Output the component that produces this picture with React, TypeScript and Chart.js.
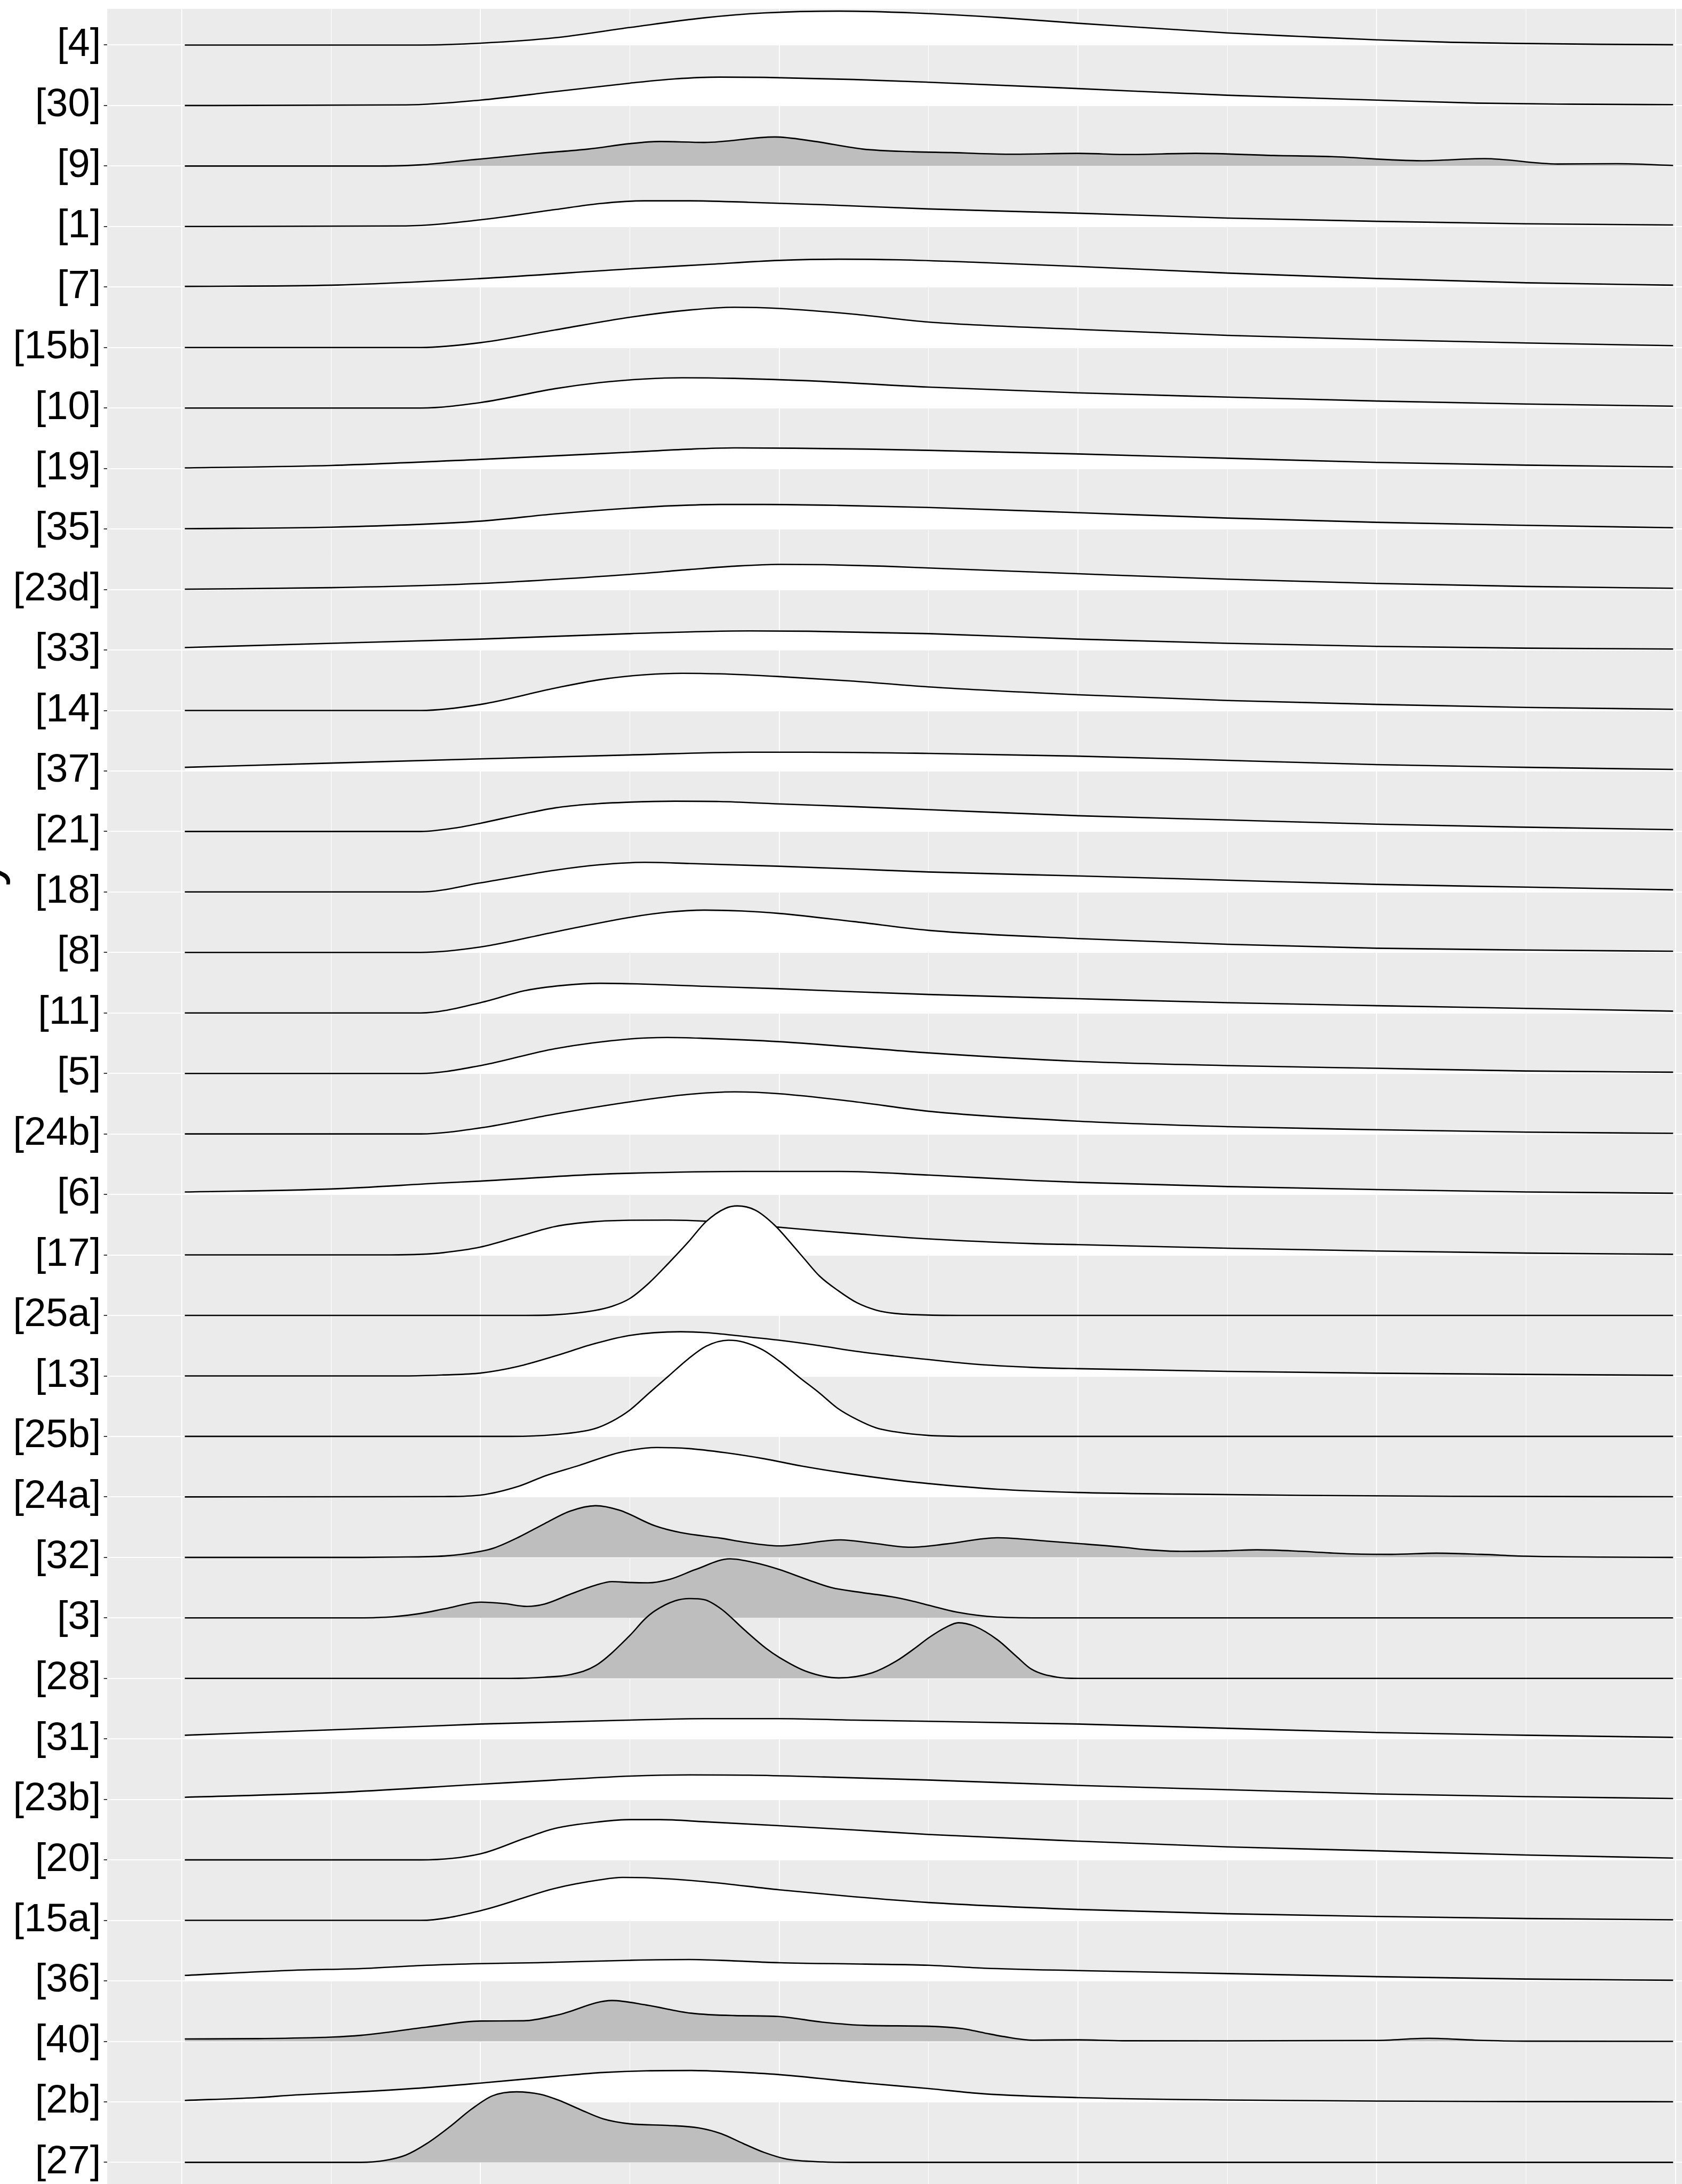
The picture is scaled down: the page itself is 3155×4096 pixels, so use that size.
import React, { useEffect, useRef } from 'react';
import { Chart, registerables } from 'chart.js';

Chart.register(...registerables);

// ---- categories (top to bottom) ----
const ROW_LABELS = ['[4]', '[30]', '[9]', '[1]', '[7]', '[15b]', '[10]', '[19]', '[35]', '[23d]', '[33]', '[14]', '[37]', '[21]', '[18]', '[8]', '[11]', '[5]', '[24b]', '[6]', '[17]', '[25a]', '[13]', '[25b]', '[24a]', '[32]', '[3]', '[28]', '[31]', '[23b]', '[20]', '[15a]', '[36]', '[40]', '[2b]', '[27]'];
const SHADED_ROWS = ['[9]', '[32]', '[3]', '[28]', '[40]', '[27]'];
const X_GRID_TICKS = [0, 1, 2, 3, 4, 5, 6, 7, 8, 9, 10];
const Y_TITLE = 'Study';

// ---- ridge densities: [x, height] pairs ----
const R4 = [[0.02, 0], [1.6, 0], [2.0, 0.03], [2.5, 0.12], [3.0, 0.29], [3.5, 0.45], [3.9, 0.53], [4.4, 0.56], [4.9, 0.53], [5.5, 0.45], [6.0, 0.36], [6.5, 0.28], [7.0, 0.2], [7.5, 0.14], [8.0, 0.085], [8.5, 0.045], [9.0, 0.025], [9.5, 0.012], [9.985, 0.005]];
const R30 = [[0.02, 0], [1.5, 0.01], [2.0, 0.09], [2.5, 0.23], [3.0, 0.37], [3.3, 0.44], [3.6, 0.47], [3.9, 0.465], [4.5, 0.43], [5.0, 0.385], [6.0, 0.28], [7.0, 0.17], [8.0, 0.09], [8.67, 0.04], [9.3, 0.022], [9.985, 0.014]];
const R9 = [[0.02, 0], [1.28, 0], [1.6, 0.02], [1.93, 0.1], [2.0, 0.115], [2.39, 0.21], [2.72, 0.28], [3.0, 0.37], [3.2, 0.405], [3.5, 0.39], [3.97, 0.48], [4.23, 0.41], [4.56, 0.28], [4.89, 0.236], [5.15, 0.222], [5.54, 0.195], [6.0, 0.209], [6.33, 0.19], [6.79, 0.209], [7.31, 0.174], [7.7, 0.155], [8.3, 0.087], [8.72, 0.122], [9.21, 0.033], [9.61, 0.038], [9.985, 0.01]];
const R1 = [[0.02, 0], [1.5, 0.01], [2.0, 0.11], [2.5, 0.28], [2.8, 0.38], [3.1, 0.425], [3.4, 0.425], [3.8, 0.4], [4.3, 0.36], [5.0, 0.29], [6.0, 0.22], [7.0, 0.14], [8.0, 0.085], [9.0, 0.045], [9.985, 0.025]];
const R7 = [[0.02, 0.01], [1.0, 0.03], [2.0, 0.14], [3.0, 0.3], [3.5, 0.37], [4.0, 0.44], [4.4, 0.46], [4.8, 0.45], [5.3, 0.41], [6.0, 0.34], [7.0, 0.23], [8.0, 0.14], [9.0, 0.07], [9.985, 0.03]];
const R15B = [[0.02, 0], [1.6, 0], [2.0, 0.08], [2.5, 0.29], [3.0, 0.5], [3.4, 0.62], [3.7, 0.665], [4.0, 0.645], [4.5, 0.55], [5.0, 0.42], [6.0, 0.3], [7.0, 0.2], [8.0, 0.13], [9.0, 0.075], [9.985, 0.03]];
const R10 = [[0.02, 0], [1.6, 0], [2.0, 0.09], [2.5, 0.32], [2.8, 0.42], [3.1, 0.48], [3.35, 0.5], [3.7, 0.49], [4.2, 0.45], [5.0, 0.345], [6.0, 0.25], [7.0, 0.18], [8.0, 0.115], [9.0, 0.065], [9.985, 0.03]];
const R19 = [[0.02, 0.01], [1.0, 0.05], [2.0, 0.15], [3.0, 0.27], [3.4, 0.32], [3.7, 0.34], [4.1, 0.335], [4.6, 0.32], [5.0, 0.3], [6.0, 0.24], [7.0, 0.17], [8.0, 0.1], [9.0, 0.055], [9.985, 0.025]];
const R35 = [[0.02, 0.005], [1.0, 0.03], [2.0, 0.13], [2.5, 0.25], [3.0, 0.345], [3.3, 0.385], [3.6, 0.405], [3.9, 0.405], [4.4, 0.39], [5.0, 0.355], [6.0, 0.27], [7.0, 0.18], [8.0, 0.11], [9.0, 0.06], [9.985, 0.02]];
const R23D = [[0.02, 0.005], [1.0, 0.03], [2.0, 0.1], [3.0, 0.25], [3.4, 0.33], [3.7, 0.385], [4.0, 0.415], [4.3, 0.41], [4.7, 0.385], [5.0, 0.355], [6.0, 0.26], [7.0, 0.17], [8.0, 0.1], [9.0, 0.05], [9.985, 0.02]];
const R33 = [[0.02, 0.04], [1.0, 0.11], [2.0, 0.18], [3.0, 0.27], [3.8, 0.315], [4.2, 0.31], [5.0, 0.27], [6.0, 0.18], [7.0, 0.11], [8.0, 0.06], [9.0, 0.03], [9.985, 0.015]];
const R14 = [[0.02, 0], [1.6, 0], [2.0, 0.1], [2.5, 0.37], [2.8, 0.51], [3.1, 0.59], [3.35, 0.615], [3.6, 0.605], [4.0, 0.56], [4.5, 0.485], [5.0, 0.39], [6.0, 0.26], [7.0, 0.165], [8.0, 0.1], [9.0, 0.05], [9.985, 0.02]];
const R37 = [[0.02, 0.06], [1.0, 0.13], [2.0, 0.2], [3.0, 0.265], [3.8, 0.31], [4.2, 0.31], [5.0, 0.29], [6.0, 0.245], [7.0, 0.175], [8.0, 0.105], [9.0, 0.06], [9.985, 0.025]];
const R21 = [[0.02, 0], [1.6, 0], [1.85, 0.065], [2.0, 0.136], [2.29, 0.29], [2.5, 0.39], [2.73, 0.45], [3.0, 0.485], [3.3, 0.5], [3.6, 0.495], [4.0, 0.455], [4.5, 0.41], [5.0, 0.36], [6.0, 0.26], [7.0, 0.19], [8.0, 0.12], [9.0, 0.07], [9.985, 0.03]];
const R18 = [[0.02, 0], [1.6, 0], [2.0, 0.15], [2.5, 0.36], [2.8, 0.45], [3.1, 0.49], [3.4, 0.47], [4.0, 0.425], [4.5, 0.38], [5.0, 0.33], [6.0, 0.265], [7.0, 0.195], [8.0, 0.125], [9.0, 0.08], [9.985, 0.035]];
const R8 = [[0.02, 0], [1.6, 0], [2.0, 0.09], [2.5, 0.34], [3.0, 0.58], [3.25, 0.665], [3.5, 0.7], [3.75, 0.685], [4.0, 0.645], [4.5, 0.51], [5.0, 0.365], [6.0, 0.23], [7.0, 0.135], [8.0, 0.07], [9.0, 0.04], [9.985, 0.02]];
const R11 = [[0.02, 0], [1.6, 0], [2.0, 0.17], [2.3, 0.37], [2.55, 0.455], [2.8, 0.49], [3.05, 0.48], [3.5, 0.44], [4.0, 0.4], [4.5, 0.35], [5.0, 0.305], [6.0, 0.235], [7.0, 0.17], [8.0, 0.12], [9.0, 0.075], [9.985, 0.03]];
const R5 = [[0.02, 0], [1.6, 0], [2.0, 0.13], [2.5, 0.41], [3.0, 0.57], [3.25, 0.595], [3.5, 0.58], [4.0, 0.525], [4.5, 0.435], [5.0, 0.34], [6.0, 0.2], [7.0, 0.13], [8.0, 0.085], [9.0, 0.04], [9.985, 0.02]];
const R24B = [[0.02, 0], [1.6, 0], [2.0, 0.1], [2.5, 0.33], [3.0, 0.53], [3.4, 0.655], [3.7, 0.695], [4.0, 0.665], [4.5, 0.535], [5.0, 0.375], [6.0, 0.21], [7.0, 0.12], [8.0, 0.07], [9.0, 0.03], [9.985, 0.01]];
const R6 = [[0.02, 0.04], [1.0, 0.09], [1.75, 0.19], [2.0, 0.22], [2.76, 0.33], [3.0, 0.35], [3.76, 0.38], [4.4, 0.38], [5.0, 0.32], [5.7, 0.23], [6.0, 0.2], [7.0, 0.13], [8.0, 0.08], [9.0, 0.04], [9.985, 0.02]];
const R17 = [[0.02, 0], [1.4, 0], [1.6, 0.01], [1.75, 0.037], [2.0, 0.13], [2.25, 0.3], [2.5, 0.47], [2.76, 0.55], [3.0, 0.573], [3.26, 0.576], [3.51, 0.557], [3.75, 0.51], [3.97, 0.464], [4.27, 0.4], [4.52, 0.35], [5.0, 0.265], [5.7, 0.187], [6.0, 0.17], [7.0, 0.11], [8.0, 0.065], [9.0, 0.03], [9.985, 0.01]];
const R25A = [[0.02, 0], [2.3, 0], [2.5, 0.01], [2.76, 0.08], [2.88, 0.15], [3.0, 0.28], [3.13, 0.54], [3.26, 0.866], [3.39, 1.21], [3.51, 1.55], [3.64, 1.77], [3.72, 1.81], [3.84, 1.74], [3.97, 1.49], [4.09, 1.16], [4.17, 0.93], [4.27, 0.65], [4.4, 0.4], [4.52, 0.21], [4.65, 0.087], [4.77, 0.034], [5.0, 0.006], [5.3, 0], [9.985, 0]];
const R13 = [[0.02, 0], [1.5, 0], [1.75, 0.016], [2.0, 0.047], [2.25, 0.156], [2.5, 0.33], [2.76, 0.53], [3.0, 0.67], [3.34, 0.73], [3.51, 0.716], [3.76, 0.654], [4.0, 0.59], [4.27, 0.5], [4.52, 0.405], [4.77, 0.33], [5.0, 0.27], [5.28, 0.2], [5.7, 0.14], [6.0, 0.12], [7.0, 0.075], [8.0, 0.045], [9.0, 0.025], [9.985, 0.01]];
const R25B = [[0.02, 0], [2.2, 0], [2.5, 0.03], [2.76, 0.125], [2.88, 0.25], [3.0, 0.436], [3.13, 0.72], [3.26, 1.0], [3.39, 1.28], [3.51, 1.49], [3.66, 1.59], [3.76, 1.56], [3.89, 1.43], [4.0, 1.245], [4.14, 0.965], [4.27, 0.716], [4.39, 0.467], [4.52, 0.28], [4.65, 0.14], [4.77, 0.078], [5.0, 0.016], [5.3, 0], [9.985, 0]];
const R24A = [[0.02, 0], [1.4, 0.003], [1.76, 0.006], [2.0, 0.03], [2.26, 0.18], [2.43, 0.345], [2.66, 0.52], [2.88, 0.7], [3.0, 0.77], [3.18, 0.816], [3.39, 0.8], [3.64, 0.73], [3.9, 0.63], [4.15, 0.51], [4.45, 0.39], [4.78, 0.28], [5.0, 0.22], [5.46, 0.127], [6.0, 0.073], [6.69, 0.046], [7.5, 0.025], [8.5, 0.01], [9.985, 0.003]];
const R32 = [[0.02, 0], [1.2, 0], [1.42, 0.005], [1.76, 0.024], [2.0, 0.1], [2.09, 0.155], [2.26, 0.34], [2.43, 0.56], [2.6, 0.765], [2.77, 0.855], [2.93, 0.78], [3.17, 0.52], [3.34, 0.41], [3.61, 0.317], [3.77, 0.25], [4.0, 0.19], [4.11, 0.21], [4.41, 0.29], [4.62, 0.236], [4.88, 0.168], [5.12, 0.222], [5.46, 0.325], [5.79, 0.27], [6.0, 0.23], [6.3, 0.168], [6.46, 0.127], [6.69, 0.1], [7.0, 0.11], [7.2, 0.125], [7.5, 0.1], [7.8, 0.06], [8.1, 0.05], [8.4, 0.07], [8.7, 0.05], [9.0, 0.02], [9.5, 0.005], [9.985, 0]];
const R3 = [[0.02, 0], [1.1, 0], [1.3, 0.005], [1.42, 0.02], [1.59, 0.07], [1.76, 0.15], [2.0, 0.26], [2.16, 0.236], [2.31, 0.19], [2.43, 0.23], [2.6, 0.39], [2.77, 0.54], [2.88, 0.6], [3.0, 0.585], [3.12, 0.58], [3.27, 0.64], [3.44, 0.8], [3.67, 0.976], [3.84, 0.91], [4.0, 0.8], [4.18, 0.64], [4.35, 0.5], [4.55, 0.42], [4.75, 0.35], [4.88, 0.285], [5.0, 0.21], [5.19, 0.095], [5.46, 0.014], [5.8, 0], [9.985, 0]];
const R28 = [[0.02, 0], [2.2, 0], [2.43, 0.02], [2.6, 0.062], [2.77, 0.21], [3.0, 0.71], [3.1, 0.98], [3.17, 1.12], [3.3, 1.28], [3.4, 1.32], [3.5, 1.3], [3.61, 1.15], [3.77, 0.795], [3.91, 0.5], [4.0, 0.347], [4.18, 0.117], [4.4, 0.008], [4.62, 0.09], [4.78, 0.28], [4.92, 0.52], [5.0, 0.67], [5.12, 0.85], [5.2, 0.92], [5.31, 0.86], [5.46, 0.64], [5.59, 0.36], [5.69, 0.15], [5.86, 0.02], [6.0, 0], [9.985, 0]];
const R31 = [[0.02, 0.06], [1.0, 0.15], [1.5, 0.195], [2.0, 0.245], [3.0, 0.31], [3.5, 0.335], [4.0, 0.335], [4.5, 0.31], [5.0, 0.29], [6.0, 0.245], [7.0, 0.175], [8.0, 0.105], [9.0, 0.06], [9.985, 0.025]];
const R23B = [[0.02, 0.035], [1.0, 0.11], [2.0, 0.25], [2.5, 0.32], [3.0, 0.385], [3.4, 0.405], [3.8, 0.4], [4.3, 0.37], [5.0, 0.32], [6.0, 0.23], [7.0, 0.16], [8.0, 0.09], [9.0, 0.045], [9.985, 0.015]];
const R20 = [[0.02, 0], [1.6, 0], [2.0, 0.1], [2.3, 0.36], [2.5, 0.52], [2.8, 0.63], [3.0, 0.665], [3.2, 0.665], [3.5, 0.63], [4.0, 0.565], [4.5, 0.495], [5.0, 0.42], [6.0, 0.31], [7.0, 0.215], [8.0, 0.15], [9.0, 0.08], [9.985, 0.03]];
const R15A = [[0.02, 0], [1.6, 0], [2.0, 0.16], [2.5, 0.53], [2.8, 0.67], [2.95, 0.71], [3.1, 0.705], [3.5, 0.64], [4.0, 0.505], [4.5, 0.39], [5.0, 0.295], [6.0, 0.18], [7.0, 0.11], [8.0, 0.065], [9.0, 0.03], [9.985, 0.01]];
const R36 = [[0.02, 0.09], [0.76, 0.176], [1.2, 0.203], [1.64, 0.258], [2.0, 0.285], [2.38, 0.3], [3.0, 0.34], [3.4, 0.353], [3.7, 0.33], [4.0, 0.3], [4.58, 0.277], [5.0, 0.258], [5.37, 0.21], [6.0, 0.17], [7.0, 0.12], [8.0, 0.07], [9.0, 0.03], [9.985, 0.01]];
const R40 = [[0.02, 0.04], [0.5, 0.045], [1.0, 0.07], [1.2, 0.1], [1.64, 0.236], [2.0, 0.336], [2.29, 0.34], [2.52, 0.439], [2.88, 0.675], [3.11, 0.6], [3.41, 0.466], [3.7, 0.426], [3.99, 0.412], [4.29, 0.317], [4.58, 0.263], [5.0, 0.25], [5.23, 0.209], [5.37, 0.141], [5.5, 0.08], [5.7, 0.02], [6.0, 0.025], [6.3, 0.01], [7.0, 0.008], [8.0, 0.015], [8.35, 0.05], [8.66, 0.02], [9.0, 0.003], [9.985, 0]];
const R2B = [[0.02, 0.024], [0.5, 0.07], [0.76, 0.114], [1.2, 0.168], [1.64, 0.236], [2.0, 0.31], [2.52, 0.426], [2.82, 0.485], [3.11, 0.513], [3.41, 0.518], [3.7, 0.494], [4.0, 0.45], [4.58, 0.31], [5.0, 0.22], [5.37, 0.133], [6.0, 0.07], [7.0, 0.03], [8.0, 0.012], [9.0, 0.005], [9.985, 0.002]];
const R27 = [[0.02, 0], [1.2, 0], [1.35, 0.027], [1.5, 0.12], [1.64, 0.31], [1.79, 0.58], [1.94, 0.88], [2.08, 1.1], [2.24, 1.166], [2.4, 1.125], [2.52, 1.03], [2.67, 0.87], [2.82, 0.72], [3.0, 0.637], [3.26, 0.61], [3.46, 0.57], [3.61, 0.475], [3.76, 0.31], [3.9, 0.163], [4.05, 0.054], [4.29, 0.008], [4.5, 0], [9.985, 0]];

const RIDGE_DATA = [R4, R30, R9, R1, R7, R15B, R10, R19, R35, R23D, R33, R14, R37, R21, R18, R8, R11, R5, R24B, R6, R17, R25A, R13, R25B, R24A, R32, R3, R28, R31, R23B, R20, R15A, R36, R40, R2B, R27];

// ---- layout (output px, 0.923 of reference) ----
const W = 3155;
const H = 4096;
const CHART_LEFT = 201.2;
const CHART_TOP = 16.6;
const X_MIN = -0.4992;
const X_MAX = 10.0445;
const Y_MIN = -0.358;
const Y_MAX = 35.598;
const FONT = '"Liberation Sans", Arial, Helvetica, sans-serif';

const bgPlugin = {
  id: 'panelBg',
  beforeDraw(chart: any) {
    const { ctx, chartArea } = chart;
    ctx.save();
    ctx.fillStyle = '#EBEBEB';
    ctx.fillRect(chartArea.left, chartArea.top, chartArea.right - chartArea.left, chartArea.bottom - chartArea.top);
    ctx.restore();
  },
};

const titlePlugin = {
  id: 'yTitle',
  afterDraw(chart: any) {
    const ctx = chart.ctx;
    ctx.save();
    ctx.translate(-2, 1612);
    ctx.rotate(-Math.PI / 2);
    ctx.font = `100px ${FONT}`;
    ctx.fillStyle = '#000000';
    ctx.textAlign = 'right';
    ctx.textBaseline = 'alphabetic';
    ctx.fillText(Y_TITLE, 0, 0);
    ctx.restore();
  },
};

export default function App() {
  const ref = useRef<HTMLCanvasElement | null>(null);

  useEffect(() => {
    const canvas = ref.current;
    if (!canvas) return;
    const n = ROW_LABELS.length;
    const datasets: any[] = [];
    for (let i = n - 1; i >= 0; i--) {
      const base = n - 1 - i;
      datasets.push({
        label: ROW_LABELS[i],
        data: RIDGE_DATA[i].map(([x, h]) => ({ x, y: base + h })),
        borderColor: '#000000',
        borderWidth: 2.6,
        backgroundColor: SHADED_ROWS.includes(ROW_LABELS[i]) ? '#BEBEBE' : '#FFFFFF',
        fill: { value: base },
        pointRadius: 0,
        pointHoverRadius: 0,
        cubicInterpolationMode: 'monotone',
        borderJoinStyle: 'round',
      });
    }

    const chart = new Chart(canvas, {
      type: 'line',
      data: { datasets },
      options: {
        animation: false,
        responsive: false,
        maintainAspectRatio: false,
        devicePixelRatio: 1,
        events: [],
        layout: { padding: { top: CHART_TOP, left: 0, right: 0, bottom: 0 } },
        plugins: {
          legend: { display: false },
          tooltip: { enabled: false },
          title: { display: false },
        },
        scales: {
          x: {
            type: 'linear',
            position: 'bottom',
            min: X_MIN,
            max: X_MAX,
            bounds: 'data',
            border: { display: false },
            ticks: { display: false },
            grid: {
              color: '#FFFFFF',
              drawTicks: false,
              lineWidth: (c: any) => (c.tick && Math.round(c.tick.value) % 2 === 0 ? 1.9 : 1.0),
            },
            afterBuildTicks: (s: any) => {
              s.ticks = X_GRID_TICKS.map((v) => ({ value: v }));
            },
            afterFit: (s: any) => {
              s.height = 0;
              s.paddingLeft = 0;
              s.paddingRight = 0;
            },
          },
          y: {
            type: 'linear',
            position: 'left',
            min: Y_MIN,
            max: Y_MAX,
            bounds: 'data',
            border: { display: false },
            ticks: {
              autoSkip: false,
              padding: 5.5,
              color: '#000000',
              font: { family: FONT, size: 74 },
              callback: (v: any) => ROW_LABELS[n - 1 - Math.round(Number(v))],
            },
            grid: {
              color: '#FFFFFF',
              lineWidth: 1.9,
              drawTicks: true,
              tickLength: 6.5,
              tickColor: '#333333',
              tickWidth: 1.9,
            },
            afterBuildTicks: (s: any) => {
              s.ticks = ROW_LABELS.map((_, i) => ({ value: i }));
            },
            afterFit: (s: any) => {
              s.width = CHART_LEFT;
              s.paddingTop = 0;
              s.paddingBottom = 0;
            },
          },
        },
      } as any,
      plugins: [bgPlugin, titlePlugin],
    });

    return () => chart.destroy();
  }, []);

  return (
    <div style={{ position: 'absolute', left: 0, top: 0, width: W, height: H, overflow: 'hidden', background: '#FFFFFF' }}>
      <canvas ref={ref} width={W} height={H} style={{ display: 'block', width: W, height: H }} />
    </div>
  );
}
